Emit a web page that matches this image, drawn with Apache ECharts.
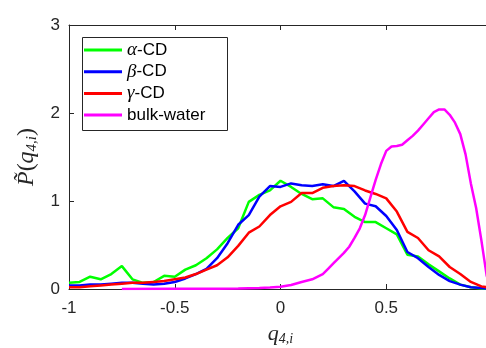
<!DOCTYPE html>
<html><head><meta charset="utf-8">
<script src="https://cdn.jsdelivr.net/npm/echarts@6/dist/echarts.min.js"></script>
<style>html,body{margin:0;padding:0;background:#fff}#c{width:486px;height:348px}</style>
</head><body><div id="c"></div>
<script>
// shared q grid for the three CD series (step 0.05, -1 .. 1)
const qGrid = [-1,-0.95,-0.9,-0.85,-0.8,-0.75,-0.7,-0.65,-0.6,-0.55,-0.5,-0.45,-0.4,-0.35,-0.3,-0.25,-0.2,-0.15,-0.1,-0.05,0,0.05,0.1,0.15,0.2,0.25,0.3,0.35,0.4,0.45,0.5,0.55,0.6,0.65,0.7,0.75,0.8,0.85,0.9,0.95,1];
const alphaCD = [0.07,0.08,0.14,0.11,0.17,0.26,0.11,0.07,0.08,0.15,0.14,0.22,0.27,0.35,0.45,0.58,0.69,0.99,1.07,1.12,1.23,1.16,1.08,1.02,1.03,0.93,0.91,0.82,0.76,0.76,0.69,0.62,0.39,0.37,0.28,0.2,0.12,0.05,0.02,0.005,0];
const betaCD  = [0.04,0.04,0.05,0.05,0.06,0.07,0.07,0.06,0.05,0.06,0.08,0.12,0.17,0.23,0.35,0.52,0.73,0.84,1.05,1.17,1.16,1.2,1.18,1.17,1.19,1.17,1.23,1.11,0.97,0.94,0.83,0.67,0.42,0.35,0.25,0.16,0.09,0.05,0.02,0.01,0];
const gammaCD = [0.02,0.02,0.03,0.04,0.05,0.06,0.07,0.07,0.08,0.09,0.11,0.13,0.17,0.22,0.27,0.36,0.49,0.64,0.71,0.84,0.94,0.99,1.09,1.09,1.15,1.17,1.18,1.17,1.12,1.08,1.03,0.88,0.65,0.58,0.44,0.37,0.25,0.17,0.08,0.03,0.01];
// bulk water on its own q grid
const qWater = [-0.75,-0.5,-0.3,-0.2,-0.1,-0.05,0,0.05,0.1,0.15,0.2,0.225,0.25,0.275,0.3,0.325,0.35,0.375,0.4,0.425,0.45,0.475,0.5,0.525,0.55,0.575,0.6,0.625,0.65,0.675,0.7,0.725,0.75,0.775,0.8,0.825,0.85,0.875,0.9,0.925,0.95,0.975,1];
const bulkWater = [0,0.002,0.004,0.006,0.012,0.018,0.026,0.045,0.08,0.11,0.17,0.23,0.29,0.35,0.41,0.48,0.58,0.69,0.84,1.04,1.24,1.42,1.57,1.62,1.625,1.64,1.69,1.74,1.8,1.87,1.94,2.01,2.04,2.04,1.98,1.89,1.76,1.53,1.2,0.92,0.55,0.15,0];
const xTicks = [-1,-0.5,0,0.5,1];
const yTicks = [0,1,2,3];
const seriesNames = ['\u03b1-CD','\u03b2-CD','\u03b3-CD','bulk-water'];
const colors = ['#00ff00','#0000ff','#ff0000','#ff00ff'];

const zip = (xs, ys) => xs.map((x, i) => [x, ys[i]]);
const ink = '#262626';
const sans = 'Liberation Sans';
const serif = 'Liberation Serif';

const chart = echarts.init(document.getElementById('c'), null, {renderer: 'canvas'});
const mk = (name, data, color) => ({
  name, type: 'line', data, showSymbol: false, symbol: 'none',
  lineStyle: {color, width: 2.5}, itemStyle: {color}, clip: true, animation: false, z: 3
});
chart.setOption({
  animation: false,
  backgroundColor: '#fff',
  grid: {left: 69, right: -6, top: 25, bottom: 59, containLabel: false, outerBoundsMode: 'none'},
  xAxis: [{
    type: 'value', min: -1, max: 1, interval: 0.5, position: 'bottom',
    axisLine: {show: true, onZero: false, lineStyle: {color: ink, width: 1}},
    axisTick: {show: true, inside: true, length: 5, lineStyle: {color: ink}},
    splitLine: {show: false},
    axisLabel: {color: ink, fontFamily: sans, fontSize: 17, margin: 11,
      formatter: v => (xTicks.indexOf(v) >= 0 ? String(v) : '')},
    name: '{q|q}{s|4,i}', nameLocation: 'middle', nameGap: 33,
    nameTextStyle: {rich: {
      q: {fontFamily: serif, fontStyle: 'italic', fontSize: 22, color: ink},
      s: {fontFamily: serif, fontStyle: 'italic', fontSize: 14, color: ink, verticalAlign: 'bottom', padding: [10,0,0,0]}
    }}
  }, {
    type: 'value', min: -1, max: 1, interval: 0.5, position: 'top',
    axisLine: {show: true, onZero: false, lineStyle: {color: ink, width: 1}},
    axisTick: {show: true, inside: true, length: 5, lineStyle: {color: ink}},
    axisLabel: {show: false}, splitLine: {show: false}
  }],
  yAxis: {
    type: 'value', min: 0, max: 3, interval: 1,
    axisLine: {show: true, onZero: false, lineStyle: {color: ink, width: 1}},
    axisTick: {show: true, inside: true, length: 5, lineStyle: {color: ink}},
    splitLine: {show: false},
    axisLabel: {color: ink, fontFamily: sans, fontSize: 17, margin: 9,
      formatter: v => (yTicks.indexOf(v) >= 0 ? String(v) : '')},
    name: '{p|P\u0303}{n|(}{q|q}{s|4,i}{n|)}', nameLocation: 'middle', nameGap: 29, nameRotate: 90,
    nameTextStyle: {rich: {
      p: {fontFamily: serif, fontStyle: 'italic', fontSize: 24, color: ink},
      n: {fontFamily: serif, fontSize: 24, color: ink},
      q: {fontFamily: serif, fontStyle: 'italic', fontSize: 24, color: ink},
      s: {fontFamily: serif, fontStyle: 'italic', fontSize: 15, color: ink, verticalAlign: 'bottom', padding: [10,0,0,0]}
    }}
  },
  legend: {
    orient: 'vertical', left: 84, top: 40, padding: 0, itemGap: 1.7,
    itemWidth: 38, itemHeight: 3, icon: 'rect',
    data: seriesNames,
    formatter: n => n === 'bulk-water' ? '{t|bulk-water}' : '{g|' + n[0] + '}{t|' + n.slice(1) + '}',
    textStyle: {color: '#000', fontFamily: sans, fontSize: 17, lineHeight: 20,
      rich: {
        g: {fontFamily: serif, fontStyle: 'italic', fontSize: 19, color: '#000', lineHeight: 20},
        t: {fontFamily: sans, fontSize: 17, color: '#000', lineHeight: 20}
      }}
  },
  graphic: [{type: 'rect', left: 80, top: 35, shape: {width: 145, height: 93},
    style: {fill: 'none', stroke: ink, lineWidth: 1}, z: 10, silent: true}],
  series: [
    mk(seriesNames[0], zip(qGrid, alphaCD), colors[0]),
    mk(seriesNames[1], zip(qGrid, betaCD), colors[1]),
    mk(seriesNames[2], zip(qGrid, gammaCD), colors[2]),
    mk(seriesNames[3], zip(qWater, bulkWater), colors[3])
  ]
});
</script></body></html>
